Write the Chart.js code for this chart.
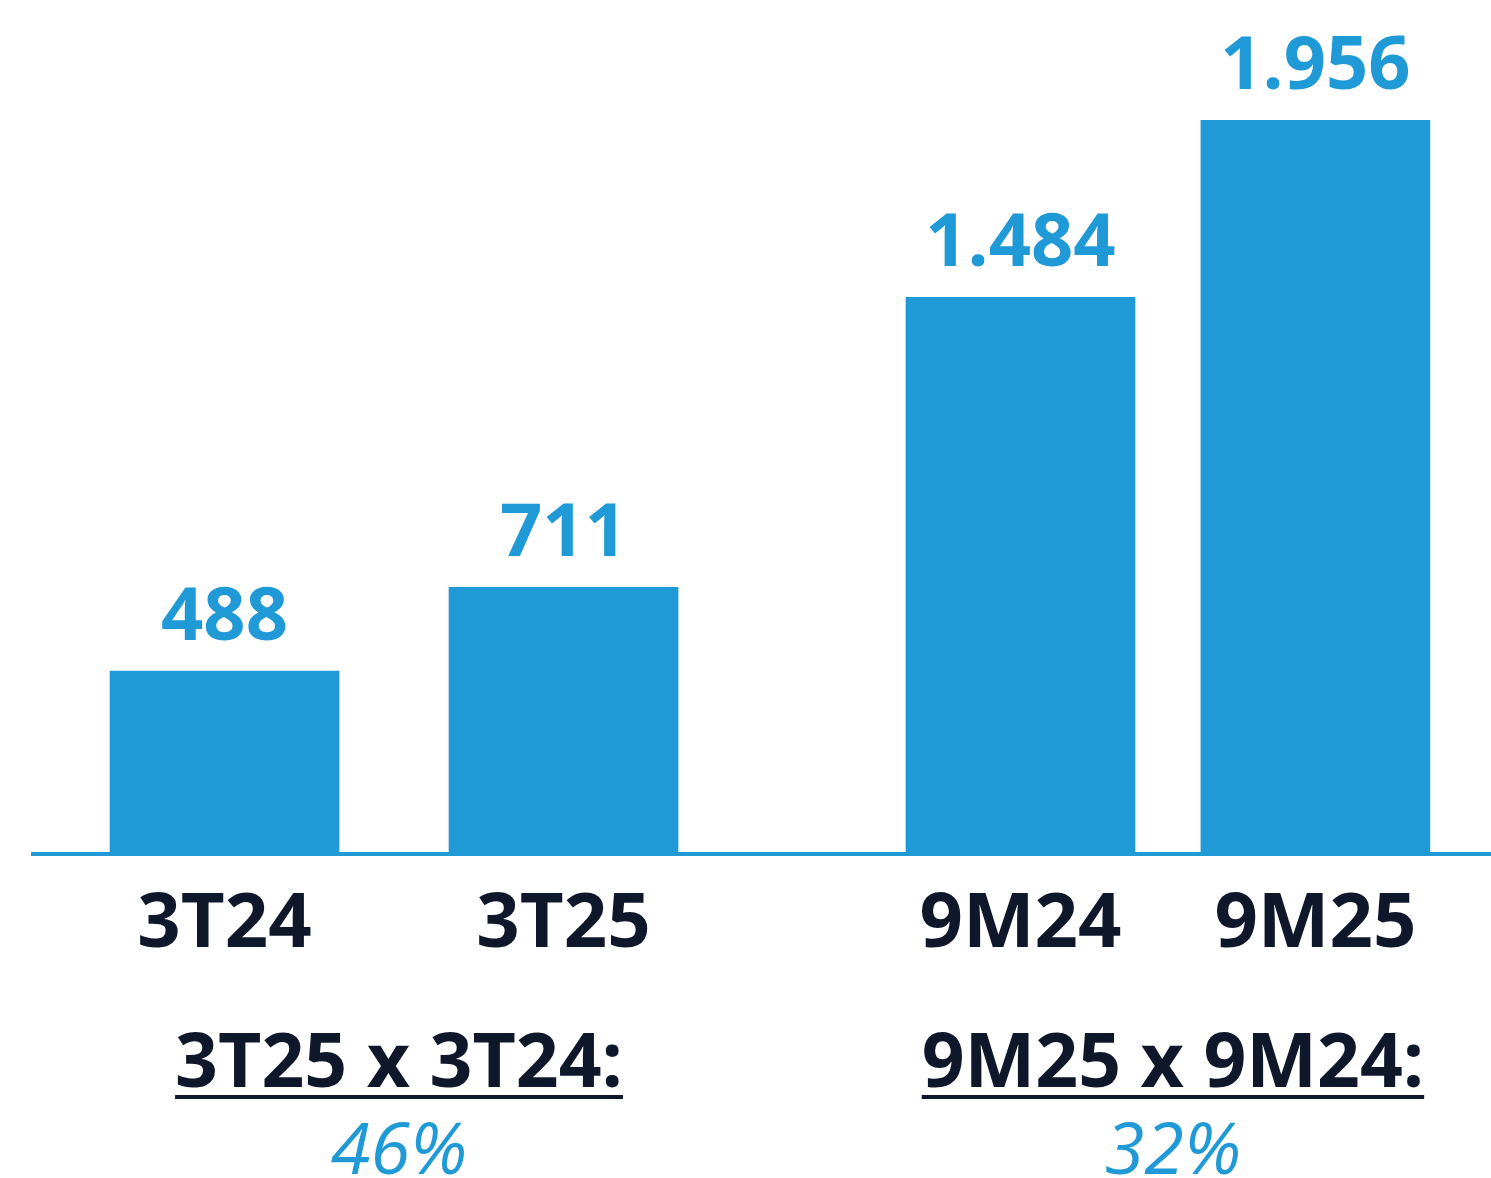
<!DOCTYPE html>
<html>
<head>
<meta charset="utf-8">
<script src="https://cdn.jsdelivr.net/npm/chart.js@4/dist/chart.umd.min.js"></script>
<style>
  html, body { margin: 0; padding: 0; background: #fff; }
  #wrap { width: 1491px; height: 1178px; }
</style>
</head>
<body>
<div id="wrap"><canvas id="barChart" width="1491" height="1178"></canvas></div>
<script>
// data
var categories = ['3T24', '3T25', '9M24', '9M25'];
var values = [488, 711, 1484, 1956];
var comparisons = ['3T25 x 3T24:', '9M25 x 9M24:'];
var growth = ['46%', '32%'];

// layout: where each bar sits on the x scale (gap between the two groups)
var slots = [0, 1, 2.348, 3.218];

var BLUE = '#1F9AD6';
var DARK = '#0F172A';
var FONT = '"Open Sans", "Noto Sans", sans-serif';

function fmt(v) {
    return String(v).replace(/\B(?=(\d{3})+(?!\d))/g, '.');
}

var valueLabels = {
    id: 'valueLabels',
    afterDatasetsDraw: function(chart) {
        var ctx = chart.ctx;
        var meta = chart.getDatasetMeta(0);
        ctx.save();
        ctx.fillStyle = BLUE;
        ctx.font = 'bold 74px ' + FONT;
        ctx.textAlign = 'center';
        ctx.textBaseline = 'alphabetic';
        meta.data.forEach(function(bar, i) {
            ctx.fillText(fmt(values[i]), bar.x, bar.y - 31);
        });
        ctx.restore();
    }
};

var comparisonText = {
    id: 'comparisonText',
    afterDraw: function(chart) {
        var ctx = chart.ctx;
        var x = chart.scales.x;
        var bottom = chart.chartArea.bottom;
        ctx.save();
        ctx.textAlign = 'center';
        comparisons.forEach(function(label, k) {
            var cx = (x.getPixelForValue(slots[k * 2]) + x.getPixelForValue(slots[k * 2 + 1])) / 2 + 5;
            ctx.font = 'bold 75px ' + FONT;
            ctx.fillStyle = DARK;
            ctx.fillText(label, cx, bottom + 233);
            var w = ctx.measureText(label).width;
            ctx.fillRect(cx - w / 2, bottom + 241, w, 4);

            ctx.font = 'italic 72px ' + FONT;
            ctx.fillStyle = BLUE;
            ctx.fillText(growth[k], cx, bottom + 320);
        });
        ctx.restore();
    }
};

window.onload = function () {
    var ctx = document.getElementById('barChart').getContext('2d');
    var myChart = new Chart(ctx, {
        type: 'bar',
        data: {
            datasets: [{
                data: values.map(function(v, i) { return {x: slots[i], y: v}; }),
                backgroundColor: BLUE,
                borderWidth: 0,
                barThickness: 229
            }]
        },
        options: {
            responsive: false,
            animation: false,
            layout: {padding: {left: 33, right: 0, top: 0, bottom: 0}},
            plugins: {legend: {display: false}, tooltip: {enabled: false}},
            scales: {
                x: {
                    type: 'linear',
                    offset: false,
                    min: -0.565,
                    max: 3.736,
                    grid: {display: false, drawTicks: false, offset: false},
                    border: {display: true, color: BLUE, width: 4},
                    afterBuildTicks: function(scale) {
                        scale.ticks = slots.map(function(s) { return {value: s}; });
                    },
                    afterFit: function(scale) {
                        scale.height = 1178 - 854;
                    },
                    ticks: {
                        autoSkip: false,
                        maxRotation: 0,
                        padding: 26,
                        color: DARK,
                        font: {family: FONT, size: 76, weight: 'bold'},
                        callback: function(value, index) { return categories[index]; }
                    }
                },
                y: {
                    display: false,
                    min: 0,
                    max: 2277
                }
            }
        },
        plugins: [valueLabels, comparisonText]
    });
};
</script>
</body>
</html>
